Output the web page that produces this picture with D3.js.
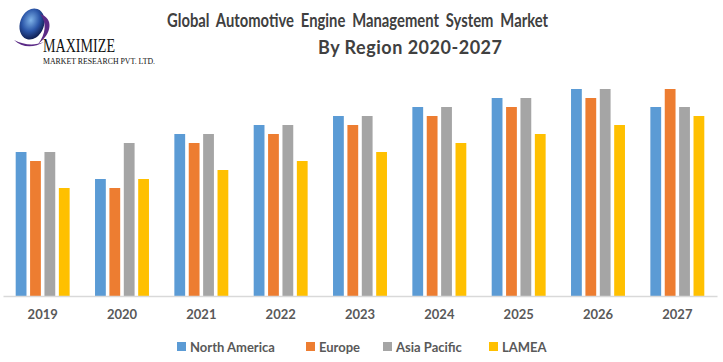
<!DOCTYPE html>
<html>
<head>
<meta charset="utf-8">
<script src="https://cdn.jsdelivr.net/npm/d3@7.9.0/dist/d3.min.js"></script>
<style>
  body { margin: 0; background: #fff; }
  svg { display: block; }
</style>
</head>
<body>
<svg id="chart" width="723" height="362"></svg>
<script>
// values (arbitrary units)
const years = ['2019', '2020', '2021', '2022', '2023', '2024', '2025', '2026', '2027'];
const regions = ['North America', 'Europe', 'Asia Pacific', 'LAMEA'];
const northAmerica = [16, 13, 18, 19, 20, 21, 22, 23, 21];
const europe = [15, 12, 17, 18, 19, 20, 21, 22, 23];
const asiaPacific = [16, 17, 18, 19, 20, 21, 22, 23, 21];
const lamea = [12, 13, 14, 15, 16, 17, 18, 19, 20];
const colors = ['#5b9bd5', '#ed7d31', '#a5a5a5', '#ffc000'];

const seriesValues = [northAmerica, europe, asiaPacific, lamea];
const rows = years.map((year, i) => ({
  year,
  values: regions.map((r, j) => ({ region: r, value: seriesValues[j][i] }))
}));

const svg = d3.select('#chart');

// logo
const logo = svg.append('g');
const grad = svg.append('defs').append('radialGradient').attr('id', 'globe')
  .attr('cx', '40%').attr('cy', '40%').attr('r', '65%');
grad.append('stop').attr('offset', '0%').attr('stop-color', '#7fb3e8');
grad.append('stop').attr('offset', '55%').attr('stop-color', '#2b56a8');
grad.append('stop').attr('offset', '100%').attr('stop-color', '#0d1a4a');
logo.append('ellipse').attr('cx', 32).attr('cy', 24).attr('rx', 12).attr('ry', 16)
  .attr('fill', 'url(#globe)').attr('transform', 'rotate(20,32,24)');
logo.append('path')
  .attr('d', 'M40,14 C54,18 52,34 38,44 C46,34 47,22 40,14 Z')
  .attr('fill', '#5b2a86');
logo.append('path')
  .attr('d', 'M14,40 C22,48 34,48 44,42 C34,46 24,45 14,40 Z')
  .attr('fill', '#5b2a86');
logo.append('text').attr('x', 43).attr('y', 52)
  .attr('font-family', 'Liberation Serif, serif').attr('font-size', 18)
  .attr('textLength', 72).attr('lengthAdjust', 'spacingAndGlyphs')
  .attr('fill', '#111').text('MAXIMIZE');
logo.append('text').attr('x', 43).attr('y', 64)
  .attr('font-family', 'Liberation Serif, serif').attr('font-size', 8.5)
  .attr('textLength', 112).attr('lengthAdjust', 'spacingAndGlyphs')
  .attr('fill', '#111').text('MARKET RESEARCH PVT. LTD.');

// title
svg.append('text').attr('x', 167).attr('y', 27)
  .attr('font-family', 'Lato, sans-serif').attr('font-weight', 'bold')
  .attr('font-size', 18).attr('fill', '#404040')
  .attr('textLength', 381).attr('lengthAdjust', 'spacingAndGlyphs')
  .attr('word-spacing', 4)
  .text('Global Automotive Engine Management System Market');
svg.append('text').attr('x', 318).attr('y', 54)
  .attr('font-family', 'Lato, sans-serif').attr('font-weight', 'bold')
  .attr('font-size', 18).attr('fill', '#404040')
  .attr('textLength', 184).attr('lengthAdjust', 'spacing')
  .text('By Region 2020-2027');

// scales
const x0 = d3.scaleBand().domain(years).range([3, 717])
  .paddingInner(0.32).paddingOuter(0.16);
const x1 = d3.scaleBand().domain(regions).range([0, x0.bandwidth()])
  .paddingInner(0.25).paddingOuter(0);
const y = d3.scaleLinear().domain([0, 25]).range([296, 71]);
const color = d3.scaleOrdinal().domain(regions).range(colors);

// bars
svg.append('g').selectAll('g').data(rows).join('g')
  .attr('transform', d => `translate(${x0(d.year)},0)`)
  .selectAll('rect').data(d => d.values).join('rect')
  .attr('x', d => x1(d.region))
  .attr('y', d => y(d.value))
  .attr('width', x1.bandwidth())
  .attr('height', d => y(0) - y(d.value))
  .attr('fill', d => color(d.region));

// x axis
const xAxis = svg.append('g').attr('transform', `translate(0,${y(0)})`)
  .call(d3.axisBottom(x0).tickSize(0).tickPadding(14));
xAxis.select('.domain').attr('stroke', '#d9d9d9').attr('stroke-width', 1.5);
xAxis.selectAll('text')
  .attr('font-family', 'Lato, sans-serif').attr('font-weight', 'bold')
  .attr('font-size', 13).attr('fill', '#595959');

// legend
const legendX = [177, 306, 383, 489];
const legend = svg.append('g').selectAll('g').data(regions).join('g')
  .attr('transform', (d, i) => `translate(${legendX[i]},342)`);
legend.append('rect').attr('width', 9).attr('height', 9).attr('fill', d => color(d));
legend.append('text').attr('x', 13).attr('y', 10)
  .attr('font-family', 'Lato, sans-serif').attr('font-weight', 'bold')
  .attr('font-size', 13).attr('fill', '#595959')
  .text(d => d);
</script>
</body>
</html>
